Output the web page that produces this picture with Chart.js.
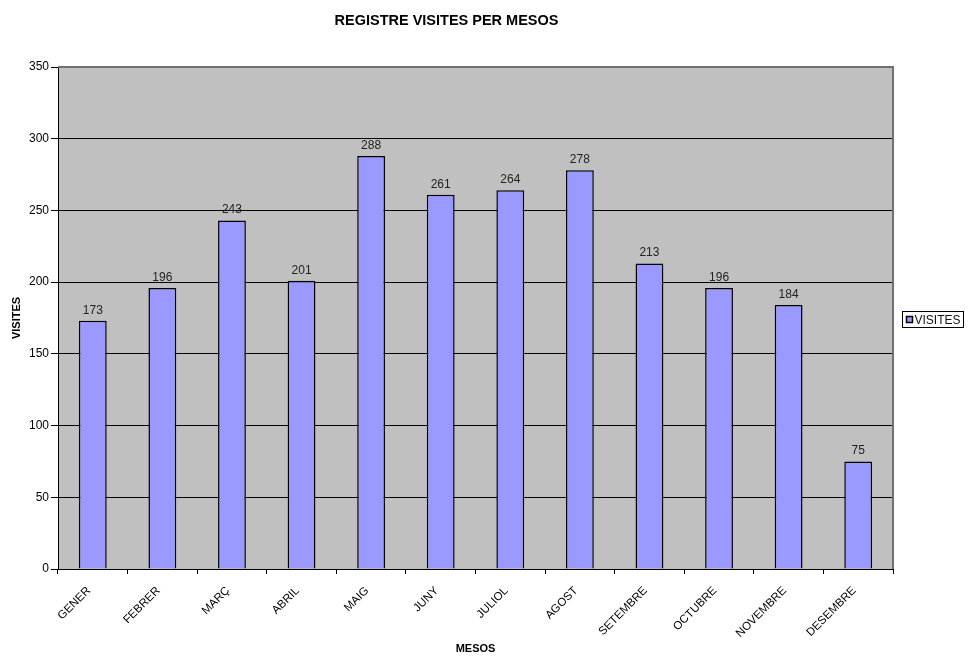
<!DOCTYPE html>
<html>
<head>
<meta charset="utf-8">
<script src="https://cdn.jsdelivr.net/npm/chart.js@4/dist/chart.umd.min.js"></script>
<style>
  html, body { margin: 0; padding: 0; background: #fff; }
  #wrap { width: 968px; height: 656px; }
</style>
</head>
<body>
<div id="wrap"><canvas id="visitesChart"></canvas></div>
<script>
// Dades del registre de visites
const mesos = ['GENER', 'FEBRER', 'MARÇ', 'ABRIL', 'MAIG', 'JUNY', 'JULIOL', 'AGOST', 'SETEMBRE', 'OCTUBRE', 'NOVEMBRE', 'DESEMBRE'];
const visites = [173, 196, 243, 201, 288, 261, 264, 278, 213, 196, 184, 75];
const eixY = { min: 0, max: 350, pas: 50 };

const FONT = 'Arial, "Liberation Sans", sans-serif';

// Fons gris i vora de l'àrea del gràfic
const fonsArea = {
    id: 'fonsArea',
    beforeDraw(chart) {
        const { ctx, chartArea: a } = chart;
        ctx.save();
        ctx.fillStyle = '#c0c0c0';
        ctx.fillRect(a.left, a.top, a.right - a.left, a.bottom - a.top);
        ctx.restore();
    },
    afterDraw(chart) {
        const { ctx, chartArea: a } = chart;
        ctx.save();
        ctx.strokeStyle = '#707070';
        ctx.lineWidth = 2;
        ctx.beginPath();
        ctx.moveTo(a.left, a.top);
        ctx.lineTo(a.right, a.top);
        ctx.lineTo(a.right, a.bottom);
        ctx.stroke();
        ctx.restore();
    }
};

// Valors a sobre de cada barra
const etiquetes = {
    id: 'etiquetes',
    afterDatasetsDraw(chart) {
        const { ctx } = chart;
        const meta = chart.getDatasetMeta(0);
        ctx.save();
        ctx.font = '12px ' + FONT;
        ctx.fillStyle = '#222';
        ctx.textAlign = 'center';
        ctx.textBaseline = 'alphabetic';
        meta.data.forEach((bar, i) => {
            ctx.fillText(chart.data.datasets[0].data[i], bar.x, bar.y - 7);
        });
        ctx.restore();
    }
};

// Llegenda amb marc, a la dreta del gràfic
const llegenda = {
    id: 'llegenda',
    afterDraw(chart) {
        const { ctx, chartArea: a } = chart;
        const ds = chart.data.datasets[0];
        ctx.save();
        ctx.font = '12px ' + FONT;
        const w = 61;
        const h = 16;
        const x = a.right + 9.5;
        const y = Math.round((a.top + a.bottom) / 2 - h / 2) + 1.5;
        ctx.fillStyle = '#fff';
        ctx.fillRect(x, y, w, h);
        ctx.strokeStyle = '#000';
        ctx.lineWidth = 1;
        ctx.strokeRect(x, y, w, h);
        ctx.fillStyle = ds.backgroundColor;
        ctx.fillRect(x + 4, y + 5, 6, 6);
        ctx.lineWidth = 1.5;
        ctx.strokeRect(x + 4, y + 5, 6, 6);
        ctx.fillStyle = '#111';
        ctx.textBaseline = 'middle';
        ctx.fillText(ds.label, x + 12, y + h / 2 + 1);
        ctx.restore();
    }
};

const ctx = document.getElementById('visitesChart').getContext('2d');
const chart = new Chart(ctx, {
    type: 'bar',
    data: {
        labels: mesos,
        datasets: [{
            label: 'VISITES',
            data: visites,
            backgroundColor: '#9999ff',
            borderColor: '#000',
            borderWidth: 1.5,
            barPercentage: 0.4,
            categoryPercentage: 1.0
        }]
    },
    options: {
        responsive: true,
        maintainAspectRatio: false,
        animation: false,
        layout: { padding: { left: 0, right: 75, top: 0, bottom: 0 } },
        plugins: {
            legend: { display: false },
            tooltip: { enabled: false },
            title: {
                display: true,
                text: 'REGISTRE VISITES PER MESOS',
                color: '#000',
                font: { family: FONT, size: 14.5, weight: 'bold' },
                padding: { top: 12, bottom: 37.6 }
            }
        },
        scales: {
            x: {
                grid: {
                    display: true,
                    drawOnChartArea: false,
                    drawTicks: true,
                    tickLength: 5,
                    color: '#000',
                    offset: true
                },
                border: { display: true, color: '#000', width: 1 },
                ticks: {
                    autoSkip: false,
                    maxRotation: 45,
                    minRotation: 45,
                    padding: 10,
                    labelOffset: -4,
                    color: '#000',
                    font: { family: FONT, size: 11.5 }
                },
                title: {
                    display: true,
                    text: 'MESOS',
                    color: '#000',
                    font: { family: FONT, size: 11, weight: 'bold' },
                    padding: { top: 1.5, bottom: 0 }
                },
                afterFit(scale) { scale.height = 87; }
            },
            y: {
                min: eixY.min,
                max: eixY.max,
                grid: {
                    color: '#000',
                    lineWidth: 1,
                    drawTicks: true,
                    tickLength: 7
                },
                border: { display: true, color: '#000', width: 1 },
                ticks: {
                    stepSize: eixY.pas,
                    padding: 2,
                    color: '#000',
                    font: { family: FONT, size: 12 }
                },
                title: {
                    display: true,
                    text: 'VISITES',
                    color: '#000',
                    font: { family: FONT, size: 11, weight: 'bold' },
                    padding: { top: 10, bottom: 0 }
                },
                afterFit(scale) { scale.width = 58; }
            }
        }
    },
    plugins: [fonsArea, etiquetes, llegenda]
});
</script>
</body>
</html>
